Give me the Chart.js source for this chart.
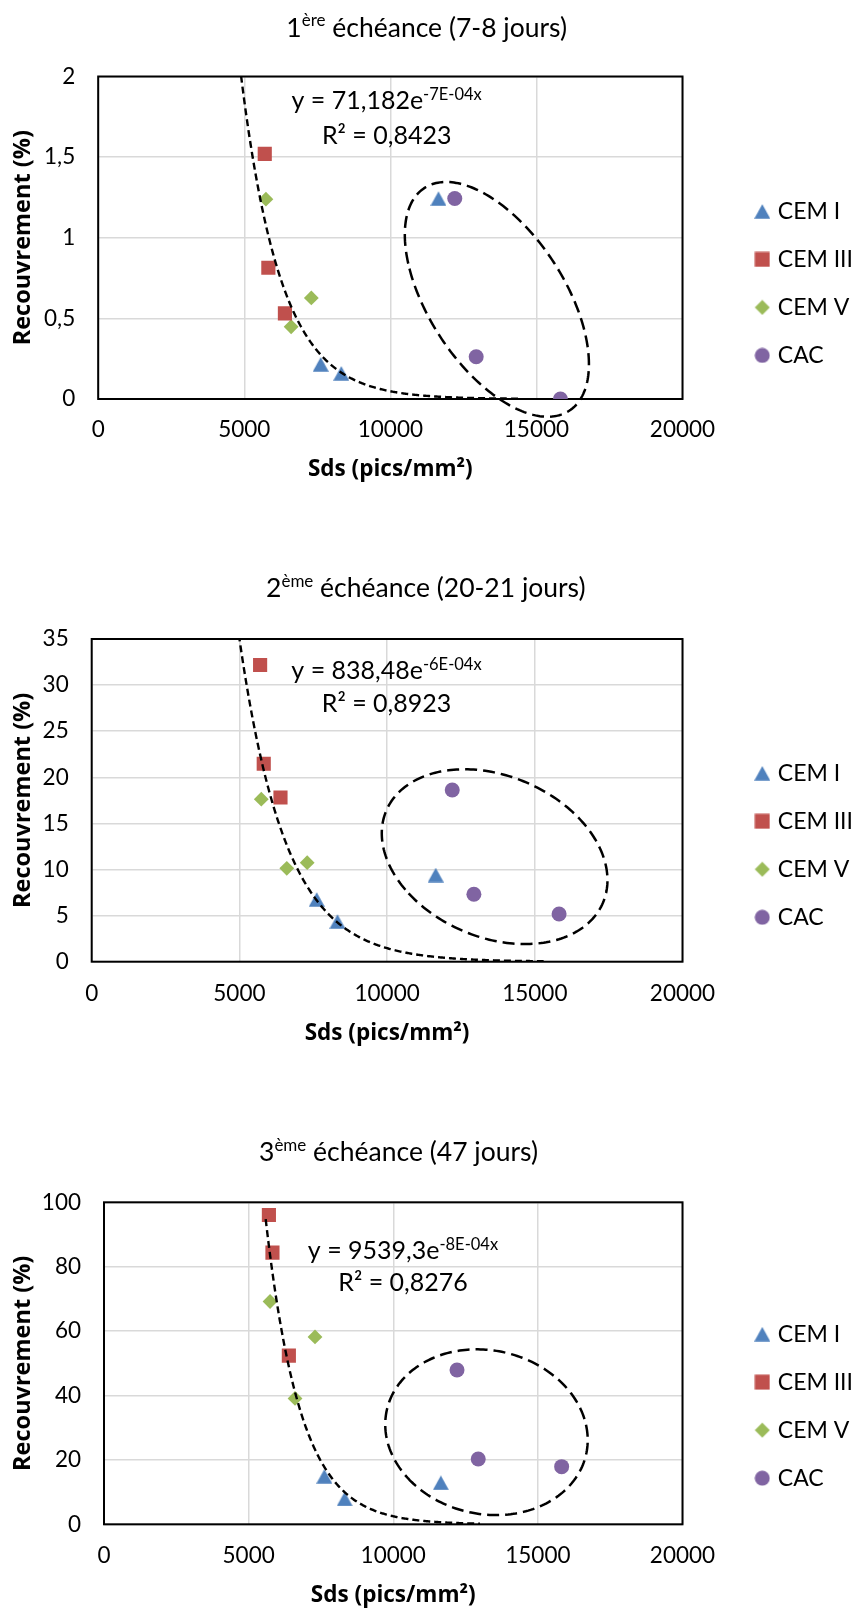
<!DOCTYPE html>
<html lang="fr">
<head>
<meta charset="utf-8">
<title>Recouvrement en fonction de Sds</title>
<script src="https://cdn.jsdelivr.net/npm/chart.js@4.4.1/dist/chart.umd.min.js"></script>
<style>
  html, body { margin: 0; padding: 0; background: #fff; }
  #page { position: relative; width: 856px; height: 1610px; overflow: hidden; }
  canvas { position: absolute; left: 0; }
</style>
</head>
<body>
<div id="page">
  <canvas id="chart1" width="856" height="540" style="top:0"></canvas>
  <canvas id="chart2" width="856" height="540" style="top:540px"></canvas>
  <canvas id="chart3" width="856" height="530" style="top:1080px"></canvas>
</div>
<script>
// Sds (pics/mm²) of the specimens, the same for the three dates
const sdsCemI = [7617, 8320, 11646];
const sdsCemIII = [5701, 5824, 6391];
const sdsCemV = [5741, 7295, 6604];
const sdsCac = [12205, 12938, 15822];

// recouvrement (%) - 1ère échéance
const rec1CemI = [0.215, 0.159, 1.243];
const rec1CemIII = [1.52, 0.814, 0.531];
const rec1CemV = [1.239, 0.627, 0.448];
const rec1Cac = [1.243, 0.262, 0];

// recouvrement (%) - 2ème échéance
const rec2CemI = [6.75, 4.36, 9.4];
const rec2CemIII = [32.18, 21.47, 17.81];
const rec2CemV = [17.63, 10.74, 10.13];
const rec2Cac = [18.62, 7.31, 5.17];

// recouvrement (%) - 3ème échéance
const rec3CemI = [14.9, 7.86, 12.9];
const rec3CemIII = [96.06, 84.36, 52.37];
const rec3CemV = [69.2, 58.2, 39.1];
const rec3Cac = [47.9, 20.3, 17.9];

// tick labels
const xTicks = [0, 5000, 10000, 15000, 20000];
const yTicks1 = [0, 0.5, 1, 1.5, 2];
const yTicks2 = [0, 5, 10, 15, 20, 25, 30, 35];
const yTicks3 = [0, 20, 40, 60, 80, 100];

// exponential trendlines, y = coef * exp(rate * x), and the x span they cover
const trend1 = [71.182, -7.3e-4];
const trend1Span = [4800, 14500];
const trend2 = [838.48, -6.35e-4];
const trend2Span = [4980, 15300];
const trend3 = [9539.3, -8.25e-4];
const trend3Span = [5590, 13000];

// dashed ellipses around the CAC group: centre and two half-axes, in data units
const ellipse1Center = [13646, 0.618];
const ellipse1AxisA = [2476, -0.691];
const ellipse1AxisB = [-1949, -0.229];
const ellipse2Center = [13640, 11.39];
const ellipse2AxisA = [3668, -4.99];
const ellipse2AxisB = [-1067, -8.06];
const ellipse3Center = [13223, 28.6];
const ellipse3AxisA = [3445, -6.88];
const ellipse3AxisB = [-615, -24.8];

const FONT = "Lato, 'Noto Sans', sans-serif";
const AXIS_FONT = "'Open Sans', Lato, sans-serif";
Chart.defaults.font.family = FONT;
Chart.defaults.color = '#000';

const PLOT_RIGHT = 682.5;
const LEG_FONT = 23, LEG_PAD = 25, LEG_BOX = 8, LEG_SHIFT = -7;

// small canvases used as marker symbols (triangle centred on its box, like Excel)
function markerCanvas(style, color) {
  const c = document.createElement('canvas');
  c.width = 16; c.height = style === 'triangle' ? 15 : 16;
  const g = c.getContext('2d');
  g.fillStyle = color;
  g.beginPath();
  if (style === 'triangle') {
    g.moveTo(8, 0.3); g.lineTo(16, 14.7); g.lineTo(0, 14.7);
  } else if (style === 'rect') {
    g.rect(0.5, 0.5, 15, 15);
  } else if (style === 'rectRot') {
    g.moveTo(8, 0.5); g.lineTo(15.5, 8); g.lineTo(8, 15.5); g.lineTo(0.5, 8);
  } else {
    g.arc(8, 8, 7.5, 0, Math.PI * 2);
  }
  g.closePath();
  g.fill();
  return c;
}

const series = [
  {label: 'CEM I', color: '#4f81bd', style: markerCanvas('triangle', '#4f81bd'), radius: 9},
  {label: 'CEM III', color: '#c0504d', style: 'rect', radius: 10},
  {label: 'CEM V', color: '#9bbb59', style: 'rectRot', radius: 7.4},
  {label: 'CAC', color: '#8064a2', style: 'circle', radius: 7.5}
];
const legendMarkers = [
  markerCanvas('triangle', '#4f81bd'),
  markerCanvas('rect', '#c0504d'),
  markerCanvas('rectRot', '#9bbb59'),
  markerCanvas('circle', '#8064a2')
];

function drawParts(ctx, parts, cx, baseline, font, supFont, rise) {
  let total = 0;
  parts.forEach(p => {
    ctx.font = p.sup ? supFont : font;
    total += ctx.measureText(p.text).width;
  });
  let x = cx - total / 2;
  ctx.textAlign = 'left';
  ctx.textBaseline = 'alphabetic';
  parts.forEach(p => {
    ctx.font = p.sup ? supFont : font;
    ctx.fillText(p.text, x, p.sup ? baseline - rise : baseline);
    x += ctx.measureText(p.text).width;
  });
}

const framePlugin = {
  id: 'frame',
  beforeDatasetsDraw(chart) {
    const {ctx, chartArea: a} = chart;
    ctx.save();
    ctx.strokeStyle = '#000';
    ctx.lineWidth = 2;
    ctx.strokeRect(a.left, a.top, a.right - a.left, a.bottom - a.top);
    ctx.restore();
  }
};

const trendPlugin = {
  id: 'trend',
  afterDatasetsDraw(chart, args, opts) {
    const {ctx, chartArea: a, scales: {x, y}} = chart;
    const [coef, rate] = opts.fit;
    const [x0, x1] = opts.span;
    ctx.save();
    ctx.beginPath();
    ctx.rect(a.left, a.top, a.right - a.left, a.bottom - a.top);
    ctx.clip();
    ctx.beginPath();
    const n = 300;
    for (let i = 0; i <= n; i++) {
      const xv = x0 + (x1 - x0) * i / n;
      const px = x.getPixelForValue(xv);
      const py = y.getPixelForValue(coef * Math.exp(rate * xv));
      if (i === 0) ctx.moveTo(px, py); else ctx.lineTo(px, py);
    }
    ctx.setLineDash([7, 4]);
    ctx.lineWidth = 2.4;
    ctx.strokeStyle = '#000';
    ctx.stroke();
    ctx.restore();
  }
};

const ellipsePlugin = {
  id: 'ellipse',
  afterDatasetsDraw(chart, args, opts) {
    const {ctx, scales: {x, y}} = chart;
    const c = opts.center, u = opts.axisA, v = opts.axisB;
    ctx.save();
    ctx.beginPath();
    const n = 240;
    for (let i = 0; i <= n; i++) {
      const t = Math.PI * 2 * i / n + 2.2;
      const px = x.getPixelForValue(c[0] + u[0] * Math.cos(t) + v[0] * Math.sin(t));
      const py = y.getPixelForValue(c[1] + u[1] * Math.cos(t) + v[1] * Math.sin(t));
      if (i === 0) ctx.moveTo(px, py); else ctx.lineTo(px, py);
    }
    ctx.setLineDash([12, 6]);
    ctx.lineWidth = 2.5;
    ctx.strokeStyle = '#000';
    ctx.stroke();
    ctx.restore();
  }
};

const textPlugin = {
  id: 'texts',
  afterDraw(chart, args, opts) {
    const ctx = chart.ctx;
    ctx.save();
    ctx.fillStyle = '#000';
    drawParts(ctx, opts.title, opts.titleX, opts.titleBase, '26.5px ' + FONT, '17px ' + FONT, 10.5);
    drawParts(ctx, opts.eq, opts.eqX, opts.eqBase[0], '25px ' + FONT, '16.5px ' + FONT, 9.5);
    drawParts(ctx, [{text: opts.r2}], opts.eqX, opts.eqBase[1], '25px ' + FONT, '16.5px ' + FONT, 9.5);
    ctx.restore();
  }
};

function makeChart(id, o) {
  const ys = [o.cemI, o.cemIII, o.cemV, o.cac];
  const xs = [sdsCemI, sdsCemIII, sdsCemV, sdsCac];
  const datasets = series.map((s, i) => ({
    label: s.label,
    data: xs[i].map((xv, j) => ({x: xv, y: ys[i][j]})),
    backgroundColor: s.color,
    borderColor: s.color,
    borderWidth: 0,
    pointStyle: s.style,
    pointRadius: s.radius,
    pointHoverRadius: s.radius
  }));

  return new Chart(document.getElementById(id), {
    type: 'scatter',
    data: {datasets},
    plugins: [framePlugin, trendPlugin, ellipsePlugin, textPlugin],
    options: {
      responsive: false,
      animation: false,
      devicePixelRatio: 1,
      layout: {padding: {top: o.padTop, bottom: o.padBottom, left: 0, right: LEG_SHIFT}},
      scales: {
        x: {
          type: 'linear',
          min: 0, max: 20000,
          afterBuildTicks: s => { s.ticks = xTicks.map(v => ({value: v})); },
          afterFit: s => { s.height = o.xHeight; },
          grid: {color: '#d9d9d9', lineWidth: 1.5, drawTicks: false},
          border: {display: false},
          ticks: {padding: o.xTickPad, font: {size: 22.5}, callback: v => String(v)},
          title: {display: true, text: 'Sds (pics/mm²)',
                  font: {family: AXIS_FONT, size: 22.5, weight: 'bold'},
                  padding: {top: 0, bottom: o.xTitlePad}}
        },
        y: {
          min: 0, max: o.yTicks[o.yTicks.length - 1],
          afterBuildTicks: s => { s.ticks = o.yTicks.map(v => ({value: v})); },
          afterFit: s => { s.width = o.plotLeft; },
          grid: {color: '#d9d9d9', lineWidth: 1.5, drawTicks: false},
          border: {display: false},
          ticks: {padding: 23, font: {size: 22.5}, callback: v => String(v).replace('.', ',')},
          title: {display: true, text: 'Recouvrement (%)',
                  font: {family: AXIS_FONT, size: 23.5, weight: 'bold'},
                  padding: {top: 9, bottom: 0}}
        },
        yr: {
          position: 'right',
          display: true,
          grid: {display: false},
          border: {display: false},
          ticks: {display: false},
          afterFit: s => {
            // keep the plot right edge fixed whatever the legend text width is
            s.ctx.font = LEG_FONT + 'px ' + FONT;
            const tw = s.ctx.measureText('CEM III').width;
            const legendW = LEG_PAD + LEG_BOX + LEG_FONT / 2 + tw + 10;
            s.width = 856 - LEG_SHIFT - legendW - PLOT_RIGHT;
          }
        }
      },
      plugins: {
        legend: {
          position: 'right',
          align: 'center',
          labels: {
            usePointStyle: true,
            boxWidth: LEG_BOX,
            padding: LEG_PAD,
            font: {size: LEG_FONT},
            color: '#000',
            generateLabels: chart => {
              const items = Chart.defaults.plugins.legend.labels.generateLabels(chart);
              items.forEach((it, i) => { it.pointStyle = legendMarkers[i]; });
              return items;
            }
          }
        },
        tooltip: {enabled: false},
        trend: {fit: o.trend, span: o.trendSpan},
        ellipse: {center: o.ellCenter, axisA: o.ellA, axisB: o.ellB},
        texts: {
          title: o.title, titleX: o.titleX, titleBase: o.titleBase,
          eq: o.eq, r2: o.r2, eqX: o.eqX, eqBase: o.eqBase
        }
      }
    }
  });
}

makeChart('chart1', {
  cemI: rec1CemI, cemIII: rec1CemIII, cemV: rec1CemV, cac: rec1Cac,
  yTicks: yTicks1, plotLeft: 98.2,
  padTop: 76.5, padBottom: 49.7, xHeight: 91.3, xTickPad: 17.5, xTitlePad: 6.9,
  trend: trend1, trendSpan: trend1Span,
  ellCenter: ellipse1Center, ellA: ellipse1AxisA, ellB: ellipse1AxisB,
  title: [{text: '1'}, {text: 'ère', sup: true}, {text: ' échéance (7-8 jours)'}],
  titleX: 426.7, titleBase: 36.7,
  eq: [{text: 'y = 71,182e'}, {text: '-7E-04x', sup: true}], r2: 'R² = 0,8423',
  eqX: 386.7, eqBase: [109.3, 144.3]
});

makeChart('chart2', {
  cemI: rec2CemI, cemIII: rec2CemIII, cemV: rec2CemV, cac: rec2Cac,
  yTicks: yTicks2, plotLeft: 91.7,
  padTop: 99, padBottom: 28.4, xHeight: 89.9, xTickPad: 18.1, xTitlePad: 4.7,
  trend: trend2, trendSpan: trend2Span,
  ellCenter: ellipse2Center, ellA: ellipse2AxisA, ellB: ellipse2AxisB,
  title: [{text: '2'}, {text: 'ème', sup: true}, {text: ' échéance (20-21 jours)'}],
  titleX: 425.8, titleBase: 57.3,
  eq: [{text: 'y = 838,48e'}, {text: '-6E-04x', sup: true}], r2: 'R² = 0,8923',
  eqX: 386.5, eqBase: [139.3, 172.3]
});

makeChart('chart3', {
  cemI: rec3CemI, cemIII: rec3CemIII, cemV: rec3CemV, cac: rec3Cac,
  yTicks: yTicks3, plotLeft: 104,
  padTop: 122.3, padBottom: 0, xHeight: 85.7, xTickPad: 18, xTitlePad: 1,
  trend: trend3, trendSpan: trend3Span,
  ellCenter: ellipse3Center, ellA: ellipse3AxisA, ellB: ellipse3AxisB,
  title: [{text: '3'}, {text: 'ème', sup: true}, {text: ' échéance (47 jours)'}],
  titleX: 398.5, titleBase: 81.1,
  eq: [{text: 'y = 9539,3e'}, {text: '-8E-04x', sup: true}], r2: 'R² = 0,8276',
  eqX: 403, eqBase: [179, 210.7]
});
</script>
</body>
</html>
